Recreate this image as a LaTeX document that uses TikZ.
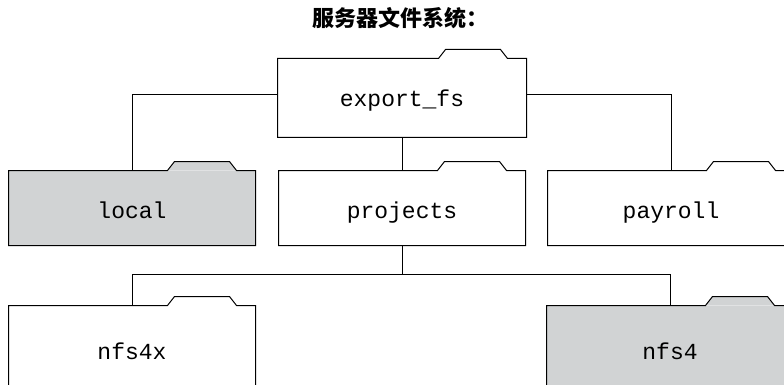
\documentclass[tikz,border=0pt]{standalone}
\usepackage{fontspec}
\setmonofont{Liberation Mono}
\newfontfamily\cjk{Noto Sans CJK SC}
\usetikzlibrary{calc}

\definecolor{foldergray}{RGB}{209,211,212}

\tikzset{
  folder/.style={minimum width=246pt, minimum height=74pt, inner sep=0pt,
    text height=20pt, text depth=0pt,
    font=\ttfamily\fontsize{23}{26}\selectfont},
}

% outline of a folder with its tab, drawn round a named node
\newcommand{\folderline}[2][white]{%
  \fill[#1] ([xshift=-88pt]#2.north east) -- ++(7pt,9pt) -- ++(55pt,0) -- ++(7pt,-9pt) -- cycle;
  \draw (#2.south west) -- (#2.north west) -- ([xshift=-88pt]#2.north east)
    -- ++(7pt,9pt) -- ++(55pt,0) -- ++(7pt,-9pt) -- (#2.north east)
    -- (#2.south east) -- cycle;}

\begin{document}
\begin{tikzpicture}[x=1pt, y=1pt, line width=1pt]
        \useasboundingbox (0,0) rectangle (784,-385);
        \clip (0,0) rectangle (784,-385);
        
        \node (title) at (400,-18) {\cjk\bfseries\fontsize{22}{25}\selectfont 服务器文件系统：};
        
        \node[folder, minimum width=248pt, minimum height=78pt, text depth=2pt] (exp) at (402,-98) {export\_fs};
        \node[folder, fill=foldergray] (local) at (132,-208) {local};
        \node[folder] (proj) at (402,-208) {projects};
        \node[folder] (pay) at (671,-208) {payroll};
        \node[folder, minimum height=100pt, text depth=14pt] (nfs4x) at (132,-356) {nfs4x};
        \node[folder, minimum height=100pt, text depth=14pt, fill=foldergray] (nfs4) at (670,-356) {nfs4};
        
        \folderline{exp}
        \folderline[foldergray]{local}
        \folderline{proj}
        \folderline{pay}
        \folderline{nfs4x}
        \folderline[foldergray]{nfs4}
        
        \draw ([yshift=3pt]exp.west) -| (local.north);
        \draw ([yshift=3pt]exp.east) -| (pay.north);
        \draw (exp.south) -- (proj.north);
        \draw (proj.south) -- ++(0,-29) coordinate (fork);
        \draw (fork) -| (nfs4x.north);
        \draw (fork) -| (nfs4.north);
    \end{tikzpicture}
\end{document}
